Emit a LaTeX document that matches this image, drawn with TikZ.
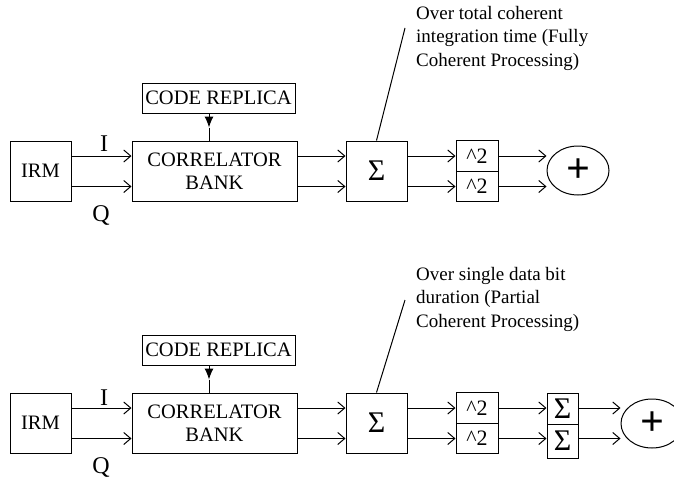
\documentclass[tikz,border=0pt]{standalone}
\usepackage{fontspec}
\setmainfont{Liberation Serif}
\usetikzlibrary{arrows.meta,shapes.geometric}

\tikzset{
    blk/.style={draw, line width=1pt, inner sep=0pt, align=center, font=\fontsize{20.5}{23}\selectfont},
    sigtxt/.style={font=\fontsize{30}{30}\selectfont},
    sqtxt/.style={font=\fontsize{22}{22}\selectfont},
    sumnode/.style={draw, ellipse, line width=1pt, inner sep=0pt, minimum width=62, minimum height=49, font=\fontsize{42}{42}\selectfont\bfseries},
    lbl/.style={inner sep=0pt, font=\fontsize{24}{24}\selectfont},
    note/.style={inner sep=0pt, align=left, anchor=north west, font=\fontsize{19}{23.5}\selectfont},
    wire/.style={line width=1pt, -{Straight Barb[length=7pt,width=12pt]}},
    feed/.style={line width=1pt, -{Latex[length=11pt,width=9pt]}},
}

\begin{document}
\begin{tikzpicture}[x=1pt, y=-1pt]
                        \useasboundingbox (0, 0) rectangle (674, 482);
                        \clip (0, 0) rectangle (674, 482);
                        % Fully coherent chain:
                        \node[blk, minimum width=61, minimum height=60](irm) at (40.5, 171){IRM};
                        \node[blk, minimum width=165, minimum height=60](bank) at (214.5, 171){CORRELATOR\\BANK};
                        \node[blk, minimum width=153, minimum height=30](code) at (218.5, 98){CODE REPLICA};
                        \node[blk, sigtxt, minimum width=61, minimum height=60](sum) at (376.5, 171){Σ};
                        \node[blk, sqtxt, minimum width=42, minimum height=30.5](sqa) at (477, 156){\textasciicircum 2};
                        \node[blk, sqtxt, minimum width=42, minimum height=30.5](sqb) at (477, 186.5){\textasciicircum 2};
                        \node[sumnode](plus) at (578, 170.5){+};
                        \node[lbl](i1) at (104, 144){I};
                        \node[lbl](q1) at (101, 215){Q};
                        \node[note](note1) at (416, 6){Over total coherent\\integration time (Fully\\Coherent Processing)};
                        \coordinate (lead1) at (405, 28);
                        \coordinate (feed1) at ([xshift=-9.5pt, yshift=-14pt]code.south);
                        \draw[wire] (irm.east |- sqa) -- (bank.west |- sqa);
                        \draw[wire] (irm.east |- sqb) -- (bank.west |- sqb);
                        \draw[feed] (code.south -| feed1) -- (feed1);
                        \draw[line width=1pt] (feed1) -- (feed1 |- bank.north);
                        \draw[wire] (bank.east |- sqa) -- (sum.west |- sqa);
                        \draw[wire] (bank.east |- sqb) -- (sum.west |- sqb);
                        \draw[wire] (sum.east |- sqa) -- (sqa.west);
                        \draw[wire] (sum.east |- sqb) -- (sqb.west);
                        \draw[wire] (sqa.east) -- (sqa.east -| plus.west);
                        \draw[wire] (sqb.east) -- (sqb.east -| plus.west);
                        \draw[line width=1pt] (lead1) -- (sum.north);
                        % Partial coherent chain:
                        \node[blk, minimum width=61, minimum height=60](irm2) at (40.5, 423){IRM};
                        \node[blk, minimum width=165, minimum height=60](bank2) at (214.5, 423){CORRELATOR\\BANK};
                        \node[blk, minimum width=153, minimum height=30](code2) at (218.5, 350){CODE REPLICA};
                        \node[blk, sigtxt, minimum width=61, minimum height=60](sum2) at (376.5, 423){Σ};
                        \node[blk, sqtxt, minimum width=42, minimum height=30.5](sqc) at (477, 408){\textasciicircum 2};
                        \node[blk, sqtxt, minimum width=42, minimum height=30.5](sqd) at (477, 438.5){\textasciicircum 2};
                        \node[blk, sigtxt, minimum width=31, minimum height=31](sma) at (562.5, 408.5){Σ};
                        \node[blk, sigtxt, minimum width=31, minimum height=34](smb) at (562.5, 441){Σ};
                        \node[sumnode](plus2) at (652, 423.5){+};
                        \node[lbl](i2) at (104, 398){I};
                        \node[lbl](q2) at (101, 467){Q};
                        \node[note](note2) at (416, 267){Over single data bit\\duration (Partial\\Coherent Processing)};
                        \coordinate (lead2) at (405, 300);
                        \coordinate (feed2) at ([xshift=-9.5pt, yshift=-14pt]code2.south);
                        \draw[wire] (irm2.east |- sqc) -- (bank2.west |- sqc);
                        \draw[wire] (irm2.east |- sqd) -- (bank2.west |- sqd);
                        \draw[feed] (code2.south -| feed2) -- (feed2);
                        \draw[line width=1pt] (feed2) -- (feed2 |- bank2.north);
                        \draw[wire] (bank2.east |- sqc) -- (sum2.west |- sqc);
                        \draw[wire] (bank2.east |- sqd) -- (sum2.west |- sqd);
                        \draw[wire] (sum2.east |- sqc) -- (sqc.west);
                        \draw[wire] (sum2.east |- sqd) -- (sqd.west);
                        \draw[wire] (sqc.east) -- (sqc.east -| sma.west);
                        \draw[wire] (sqd.east) -- (sqd.east -| smb.west);
                        \draw[wire] (sqc.east -| sma.east) -- (sqc.east -| plus2.west);
                        \draw[wire] (sqd.east -| smb.east) -- (sqd.east -| plus2.west);
                        \draw[line width=1pt] (lead2) -- (sum2.north);
                    \end{tikzpicture}
\end{document}
